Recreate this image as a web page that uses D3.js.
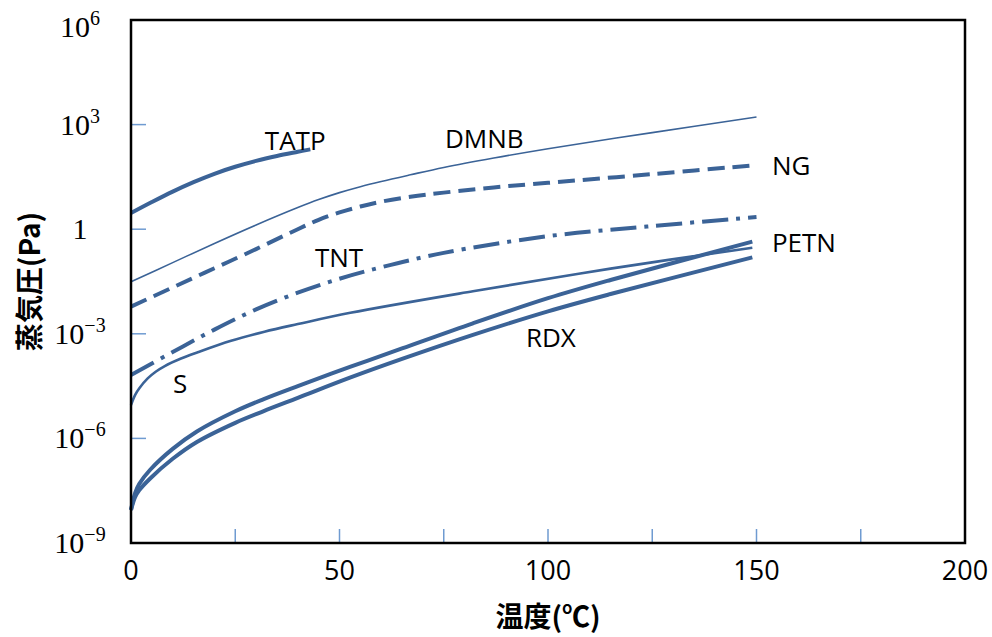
<!DOCTYPE html>
<html>
<head>
<meta charset="utf-8">
<script src="https://cdn.jsdelivr.net/npm/d3@7"></script>
<style>
    body { margin: 0; background: #fff; }
    svg { display: block; }
</style>
</head>
<body>
<div id="chart"></div>
<script>
// --- Data ---
const yTickExps = [6, 3, 0, -3, -6, -9];
const yInnerTicks = [1e3, 1, 1e-3, 1e-6];
const xTickLabels = [0, 50, 100, 150, 200];
const xInnerTicks = [25, 50, 75, 100, 125, 150, 175];

// temperature (°C) / vapour pressure (Pa)
const tatpT = [0, 5, 10, 15, 20, 25, 30, 35, 40, 43];
const tatpP = [2.9, 6.0, 12.0, 22.4, 38.9, 61.7, 91.2, 126, 166, 195];

const dmnbT = [0, 10, 20, 30, 40, 45, 50, 55, 60, 67, 75, 87, 100, 125, 150];
const dmnbP = [0.031, 0.11, 0.39, 1.32, 4.17, 7.08, 11.2, 16.6, 23.4, 36.3, 58.9, 110, 204, 589, 1660];

const ngT = [0, 10, 20, 30, 40, 45, 50, 55, 60, 67, 75, 87, 100, 125, 150];
const ngP = [0.006, 0.0214, 0.0759, 0.269, 1.0, 1.86, 3.02, 4.47, 6.17, 8.51, 11.2, 15.8, 21.4, 38, 69];

const tntT = [0, 10, 20, 30, 40, 50, 60, 75, 100, 125, 150];
const tntP = [6.6e-5, 3.0e-4, 1.32e-3, 5.0e-3, 0.0151, 0.038, 0.081, 0.209, 0.63, 1.23, 2.24];

const sT = [0, 1, 2, 4, 6, 8, 12, 16, 24, 32, 40, 52.6, 82, 115, 149];
const sP = [9.1e-6, 1.78e-5, 2.75e-5, 5.25e-5, 8.3e-5, 1.17e-4, 1.95e-4, 2.95e-4, 6.3e-4, 1.15e-3, 1.9e-3, 4.0e-3, 0.0166, 0.074, 0.295];

const petnT = [0, 1, 2, 4.6, 10, 15.8, 25, 31.7, 40, 52.5, 65, 82, 100, 115, 149];
const petnP = [8.9e-9, 2.75e-8, 5.0e-8, 1.26e-7, 5.0e-7, 1.58e-6, 6.0e-6, 1.32e-5, 3.16e-5, 1.12e-4, 3.8e-4, 2.0e-3, 0.0105, 0.035, 0.44];

const rdxT = [0, 1, 2, 4.6, 10, 15.8, 25, 31.7, 40, 52.5, 65, 82, 100, 115, 149];
const rdxP = [8.9e-9, 2.1e-8, 3.3e-8, 7.1e-8, 2.6e-7, 7.9e-7, 2.8e-6, 6.0e-6, 1.45e-5, 5.5e-5, 1.9e-4, 9.3e-4, 4.4e-3, 0.0138, 0.155];

// label anchors in data units
const labelNames = ['TATP', 'DMNB', 'NG', 'TNT', 'PETN', 'S', 'RDX'];
const labelT = [32.1, 75.3, 153.7, 44.1, 153.7, 10.1, 94.7];
const labelP = [186, 214, 35.9, 0.083, 0.224, 2.0e-5, 4.2e-4];

// --- Chart ---
const width = 992, height = 637;
const margin = { top: 20, right: 27, bottom: 94, left: 131 };
const lineColor = '#3b6397';
const tickColor = '#6f9bd1';

const svg = d3.select('#chart')
    .append('svg')
    .attr('width', width)
    .attr('height', height);

const x = d3.scaleLinear()
    .domain([0, 200])
    .range([margin.left, width - margin.right]);

const y = d3.scaleLog()
    .domain([1e-9, 1e6])
    .range([height - margin.bottom, margin.top]);

const series = [
    { t: tatpT, p: tatpP, w: 4, dash: null },
    { t: dmnbT, p: dmnbP, w: 1.6, dash: null },
    { t: ngT, p: ngP, w: 4, dash: '17,8' },
    { t: tntT, p: tntP, w: 4, dash: '26,8,4,8' },
    { t: sT, p: sP, w: 2.6, dash: null },
    { t: petnT, p: petnP, w: 4, dash: null },
    { t: rdxT, p: rdxP, w: 4, dash: null }
];

const line = d3.line()
    .x(d => x(d[0]))
    .y(d => y(d[1]))
    .curve(d3.curveCatmullRom.alpha(0.5));

svg.append('g')
    .selectAll('path')
    .data(series)
    .enter()
    .append('path')
    .attr('d', s => line(d3.zip(s.t, s.p)))
    .attr('fill', 'none')
    .attr('stroke', lineColor)
    .attr('stroke-width', s => s.w)
    .attr('stroke-dasharray', s => s.dash);

// inner ticks
svg.append('g')
    .selectAll('line')
    .data(yInnerTicks)
    .enter()
    .append('line')
    .attr('x1', x(0)).attr('x2', x(0) + 15)
    .attr('y1', d => y(d)).attr('y2', d => y(d))
    .attr('stroke', tickColor).attr('stroke-width', 1.5);

svg.append('g')
    .selectAll('line')
    .data(xInnerTicks)
    .enter()
    .append('line')
    .attr('x1', d => x(d)).attr('x2', d => x(d))
    .attr('y1', y(1e-9)).attr('y2', y(1e-9) - 14)
    .attr('stroke', tickColor).attr('stroke-width', 1.5);

// frame
svg.append('rect')
    .attr('x', x(0))
    .attr('y', y(1e6))
    .attr('width', x(200) - x(0))
    .attr('height', y(1e-9) - y(1e6))
    .attr('fill', 'none')
    .attr('stroke', '#000')
    .attr('stroke-width', 2.5);

// x tick labels
svg.append('g')
    .selectAll('text')
    .data(xTickLabels)
    .enter()
    .append('text')
    .attr('x', d => x(d))
    .attr('y', y(1e-9) + 37)
    .attr('text-anchor', 'middle')
    .style('font-family', '"Open Sans", sans-serif')
    .style('font-size', '27px')
    .text(d => d);

// y tick labels (10^n)
const yLabels = svg.append('g')
    .selectAll('text')
    .data(yTickExps)
    .enter()
    .append('text')
    .attr('x', 80)
    .attr('y', d => Math.max(y(Math.pow(10, d)), 27) + 10)
    .attr('text-anchor', 'middle')
    .style('font-family', '"Liberation Serif", serif')
    .style('font-size', '30px');

yLabels.each(function (d) {
    const t = d3.select(this);
    if (d === 0) {
        t.text('1');
        return;
    }
    t.append('tspan').text('10');
    t.append('tspan')
        .attr('dy', -12)
        .style('font-size', '20px')
        .text(d < 0 ? '\u2212' + (-d) : d);
});

// series labels
svg.append('g')
    .selectAll('text')
    .data(labelNames)
    .enter()
    .append('text')
    .attr('x', (d, i) => x(labelT[i]))
    .attr('y', (d, i) => y(labelP[i]))
    .style('font-family', '"Open Sans", sans-serif')
    .style('font-size', '26px')
    .text(d => d);

// axis titles
svg.append('text')
    .attr('x', (x(0) + x(200)) / 2)
    .attr('y', 627)
    .attr('text-anchor', 'middle')
    .style('font-family', '"Noto Sans CJK JP", sans-serif')
    .style('font-size', '28px')
    .style('font-weight', 'bold')
    .text('温度(℃)');

svg.append('text')
    .attr('transform', `translate(40, ${(y(1e6) + y(1e-9)) / 2}) rotate(-90)`)
    .attr('text-anchor', 'middle')
    .style('font-family', '"Noto Sans CJK JP", sans-serif')
    .style('font-size', '28px')
    .style('font-weight', 'bold')
    .text('蒸気圧(Pa)');
</script>
</body>
</html>
